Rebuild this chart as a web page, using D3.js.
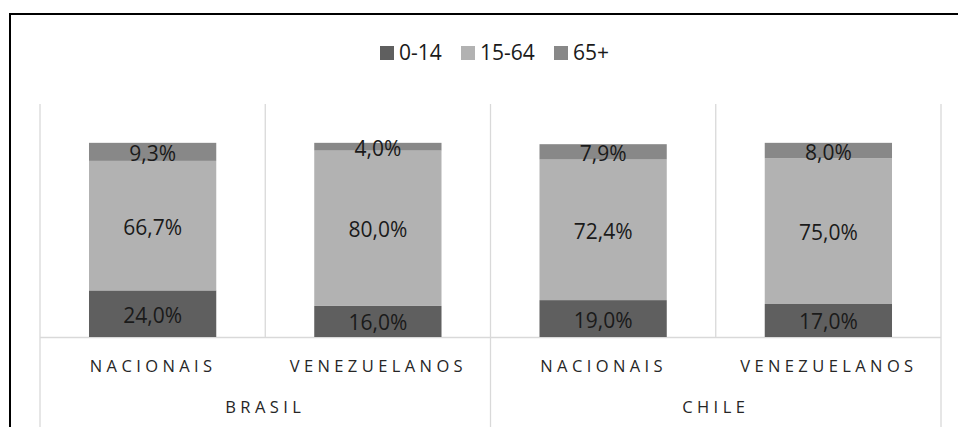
<!DOCTYPE html>
<html>
<head>
<meta charset="utf-8">
<script src="https://cdn.jsdelivr.net/npm/d3@7"></script>
<style>
  body { margin: 0; background: #fff; overflow: hidden; }
  text { font-family: "Open Sans", sans-serif; }
</style>
</head>
<body>
<svg id="chart" width="958" height="427"></svg>
<script>
// chart data
var countries = ["BRASIL", "CHILE"];
var groups = ["NACIONAIS", "VENEZUELANOS"];
var ageBands = ["0-14", "15-64", "65+"];
var age0_14 = [24.0, 16.0, 19.0, 17.0];
var age15_64 = [66.7, 80.0, 72.4, 75.0];
var age65 = [9.3, 4.0, 7.9, 8.0];
var bandColors = ["#5f5f5f", "#b2b2b2", "#888888"];

var svg = d3.select("#chart");
var plotLeft = 40, plotRight = 941, plotTop = 104, plotBottom = 337;

// outer frame
svg.append("rect")
  .attr("x", 10).attr("y", 14)
  .attr("width", 1000).attr("height", 500)
  .attr("fill", "none").attr("stroke", "#000").attr("stroke-width", 2);

var cats = [];
countries.forEach(function(c) {
  groups.forEach(function(g) { cats.push(c + "|" + g); });
});

var rows = cats.map(function(k, i) {
  return { key: k, "0-14": age0_14[i], "15-64": age15_64[i], "65+": age65[i] };
});

var x = d3.scaleBand().domain(cats).range([plotLeft, plotRight]);
var xOuter = d3.scaleBand().domain(countries).range([plotLeft, plotRight]);
var y = d3.scaleLinear().domain([0, 120]).range([plotBottom, plotTop]);

var stack = d3.stack().keys(ageBands)(rows);

// vertical gridlines between categories
var gridX = cats.map(function(k) { return x(k); }).concat([plotRight]);
svg.append("g").selectAll("line")
  .data(gridX)
  .enter().append("line")
  .attr("x1", function(d) { return d; }).attr("x2", function(d) { return d; })
  .attr("y1", plotTop).attr("y2", plotBottom)
  .attr("stroke", "#d9d9d9").attr("stroke-width", 1.3);

// axis line
svg.append("line")
  .attr("x1", plotLeft).attr("x2", plotRight)
  .attr("y1", plotBottom + 0.5).attr("y2", plotBottom + 0.5)
  .attr("stroke", "#d9d9d9").attr("stroke-width", 1.3);

// group separators below axis
var sepX = countries.map(function(c) { return xOuter(c); }).concat([plotRight]);
svg.append("g").selectAll("line")
  .data(sepX)
  .enter().append("line")
  .attr("x1", function(d) { return d; }).attr("x2", function(d) { return d; })
  .attr("y1", plotBottom).attr("y2", 427)
  .attr("stroke", "#d9d9d9").attr("stroke-width", 1.3);

var barW = x.bandwidth() * 0.565;

var layers = svg.append("g").selectAll("g")
  .data(stack)
  .enter().append("g")
  .attr("fill", function(d, i) { return bandColors[i]; });

layers.selectAll("rect")
  .data(function(d) { return d; })
  .enter().append("rect")
  .attr("x", function(d) { return x(d.data.key) + (x.bandwidth() - barW) / 2; })
  .attr("width", barW)
  .attr("y", function(d) { return y(d[1]); })
  .attr("height", function(d) { return y(d[0]) - y(d[1]); });

// data labels
var fmt = function(v) { return v.toFixed(1).replace(".", ",") + "%"; };
layers.selectAll("text")
  .data(function(d) { return d.map(function(p) { return { p: p, key: d.key }; }); })
  .enter().append("text")
  .attr("x", function(d) { return x(d.p.data.key) + x.bandwidth() / 2; })
  .attr("y", function(d) { return (y(d.p[0]) + y(d.p[1])) / 2 + 1; })
  .attr("text-anchor", "middle")
  .attr("dominant-baseline", "central")
  .attr("fill", "#1a1a1a")
  .style("font-size", "21px")
  .text(function(d) { return fmt(d.p.data[d.key]); });

// category labels
svg.append("g").selectAll("text")
  .data(cats)
  .enter().append("text")
  .attr("x", function(d) { return x(d) + x.bandwidth() / 2 + 0.5; })
  .attr("y", 372)
  .attr("text-anchor", "middle")
  .attr("fill", "#262626")
  .style("font-size", "16.5px")
  .style("letter-spacing", "4.4px")
  .text(function(d) { return d.split("|")[1]; });

svg.append("g").selectAll("text")
  .data(countries)
  .enter().append("text")
  .attr("x", function(d) { return xOuter(d) + xOuter.bandwidth() / 2; })
  .attr("y", 413)
  .attr("text-anchor", "middle")
  .attr("fill", "#262626")
  .style("font-size", "16.5px")
  .style("letter-spacing", "4.4px")
  .text(function(d) { return d; });

// legend
var legendX = [380, 461, 554];
var legend = svg.append("g").selectAll("g")
  .data(ageBands)
  .enter().append("g")
  .attr("transform", function(d, i) { return "translate(" + legendX[i] + ",46)"; });
legend.append("rect")
  .attr("width", 14).attr("height", 14)
  .attr("fill", function(d, i) { return bandColors[i]; });
legend.append("text")
  .attr("x", 19).attr("y", 14)
  .attr("fill", "#1a1a1a")
  .style("font-size", "21px")
  .text(function(d) { return d; });
</script>
</body>
</html>
